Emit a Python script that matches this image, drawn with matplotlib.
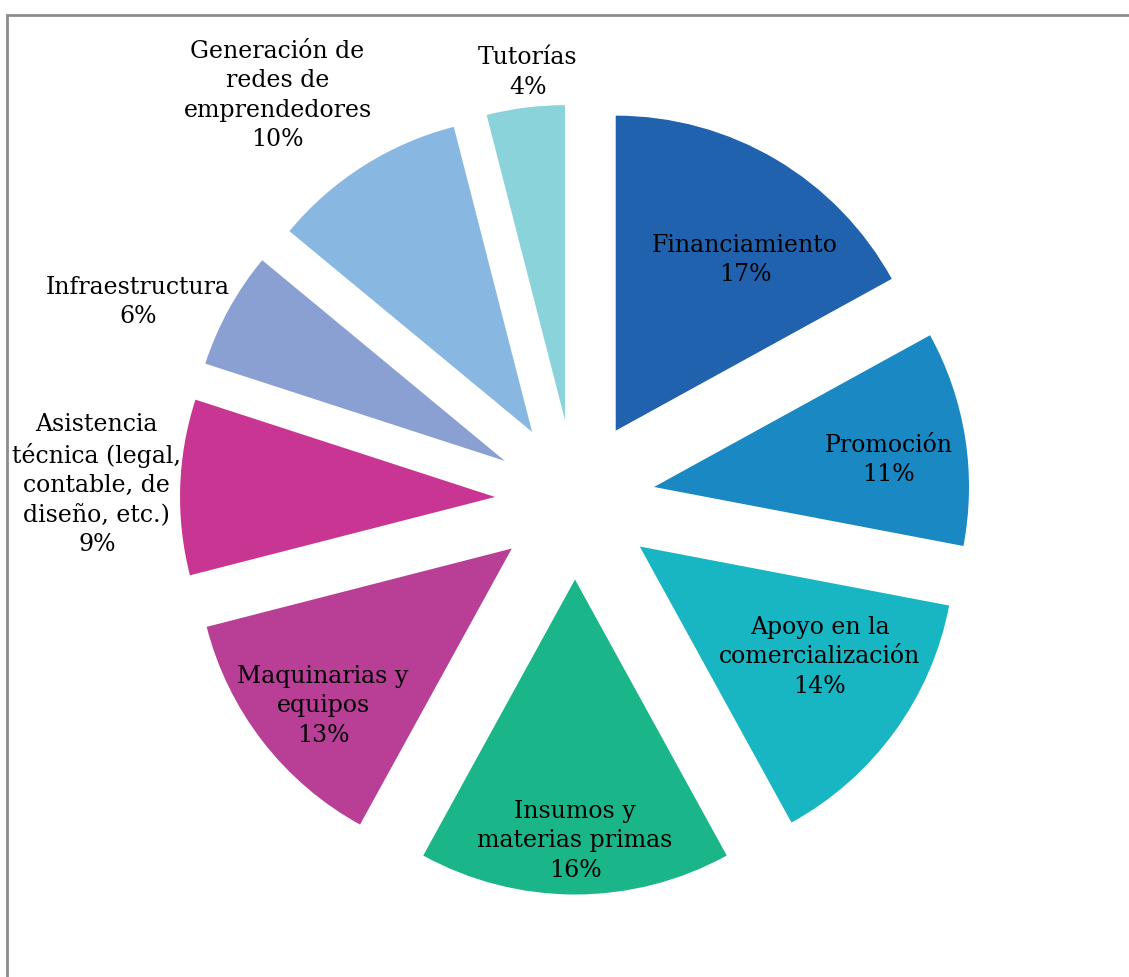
import numpy as np
import matplotlib
matplotlib.use("Agg")
import matplotlib.pyplot as plt
from matplotlib.patches import Rectangle

# Support categories, clockwise from 12 o'clock
labels = [
    "Financiamiento",
    "Promoción",
    "Apoyo en la\ncomercialización",
    "Insumos y\nmaterias primas",
    "Maquinarias y\nequipos",
    "Asistencia\ntécnica (legal,\ncontable, de\ndiseño, etc.)",
    "Infraestructura",
    "Generación de\nredes de\nemprendedores",
    "Tutorías",
]
shares = [17, 11, 14, 16, 13, 9, 6, 10, 4]
colors = [
    "#2062AE", "#1A88C3", "#17B6C2", "#1BB58A", "#B83E96",
    "#C93592", "#8AA0D2", "#88B8E1", "#8BD3DB",
]
# label distance from each slice's own tip, in pie radii, plus small angular nudge (deg)
label_dist = [0.68, 0.75, 0.67, 0.83, 0.78, 1.265, 1.27, 1.34, 1.11]
label_nudge = [6.5, 2.5, -4.5, 0.0, -2.0, 0.0, -5.4, -4.7, 1.1]

W, H = 1129, 977
CX, CY = 575, H - 499.5
R = 315
OFFSET = 80  # how far each slice is pulled out

fig = plt.figure(figsize=(W / 100, H / 100), dpi=100)
ax = fig.add_axes([0, 0, 1, 1])

# pie() applies explode as an absolute shift, so pass the offset in data units
wedges, _ = ax.pie(
    shares,
    colors=colors,
    startangle=90,
    counterclock=False,
    radius=R,
    center=(CX, CY),
    explode=[OFFSET] * len(shares),
    wedgeprops=dict(linewidth=0),
)

# data labels: category name and percentage
total = sum(shares)
start = 0.0
for lab, val, dist, nudge in zip(labels, shares, label_dist, label_nudge):
    frac = val / total
    mid = np.deg2rad(360 * (start + frac / 2))
    tip_x = CX + OFFSET * np.sin(mid)
    tip_y = CY + OFFSET * np.cos(mid)
    a = mid + np.deg2rad(nudge)
    tx = tip_x + dist * R * np.sin(a)
    ty = tip_y + dist * R * np.cos(a)
    ax.text(tx, ty, f"{lab}\n{val:.0f}%", ha="center", va="center",
            fontsize=17, family="DejaVu Serif", color="#000000",
            linespacing=1.36)
    start += frac

ax.set_xlim(0, W)
ax.set_ylim(0, H)
ax.set_aspect("equal")
ax.axis("off")

# chart frame, running past the right and bottom edges
ax.add_patch(Rectangle((7, -20), W + 20, H - 15 + 20, fill=False,
                       edgecolor="#8C8C8C", linewidth=2, clip_on=False))

fig.savefig("out.png", dpi=100)
